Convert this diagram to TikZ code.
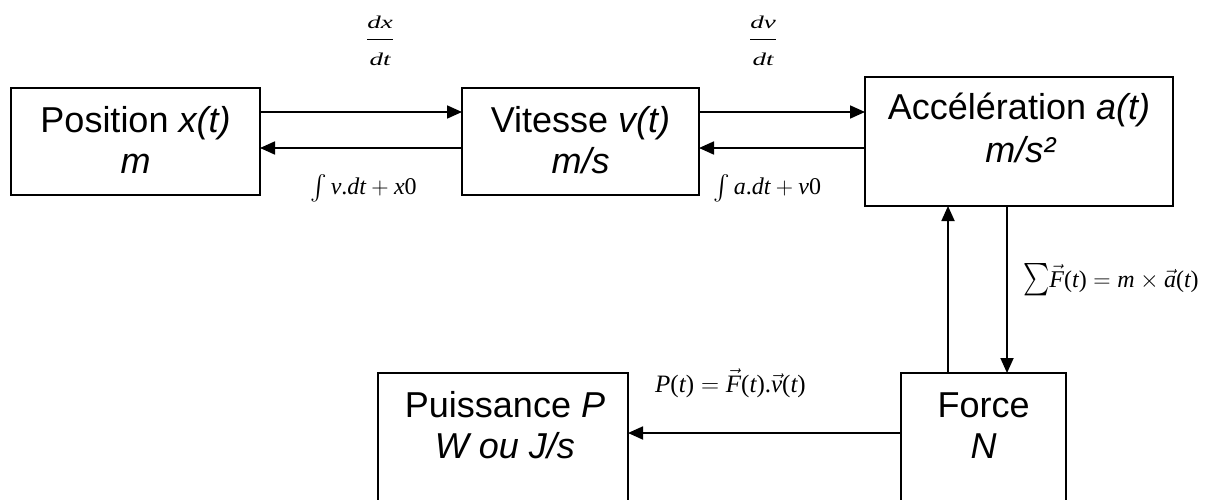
\RequirePackage{fix-cm}
\documentclass[tikz,border=0pt]{standalone}
\usepackage{amsmath}
\usepackage{graphicx}
\usepackage{fontspec}
\setmainfont{Liberation Sans}
\newfontfamily\tms{Liberation Serif}
\usetikzlibrary{arrows.meta,calc}
\newcommand\mv[1]{\text{\tms\itshape #1}}
\newcommand\mr[1]{\text{\tms\upshape #1}}
\begin{document}
\begin{tikzpicture}[x=1pt,y=-1pt,
  box/.style={draw, line width=1.8pt, inner sep=0pt, outer sep=0pt},
  txt/.style={font=\fontsize{36}{41}\selectfont, anchor=base, inner sep=0pt},
  mlbl/.style={font=\fontsize{24}{28}\selectfont, anchor=base west, inner sep=0pt},
  fraclbl/.style={font=\fontsize{18}{22}\selectfont, anchor=base, inner sep=0pt},
  arr/.style={line width=1.8pt, -{Triangle[length=15pt,width=13pt]}}]
\useasboundingbox (0,0) rectangle (1214,500);
\clip (0,0) rectangle (1214,500);
% boxes
\node[box, minimum width=249pt, minimum height=107pt] (pos) at (135.5,141.5) {};
\node[box, minimum width=237pt, minimum height=107pt] (vit) at (580.5,141.5) {};
\node[box, minimum width=308pt, minimum height=129pt] (acc) at (1019,141.5) {};
\node[box, minimum width=165pt, minimum height=167pt] (frc) at (983.5,456.5) {};
\node[box, minimum width=250pt, minimum height=167pt] (pui) at (503,456.5) {};
% box texts
\node[txt] (posA) at ($(pos.north)+(0,44)$) {Position \textit{x(t)}};
\node[txt] (posB) at ($(pos.north)+(0,85)$) {\textit{m}};
\node[txt] (vitA) at ($(vit.north)+(0,44)$) {Vitesse \textit{v(t)}};
\node[txt] (vitB) at ($(vit.north)+(0,85)$) {\textit{m/s}};
\node[txt] (accA) at ($(acc.north)+(0,43)$) {Accélération \textit{a(t)}};
\node[txt] (accB) at ($(acc.north)+(2,85)$) {\textit{m/s²}};
\node[txt] (frcA) at ($(frc.north)+(0,44)$) {Force};
\node[txt] (frcB) at ($(frc.north)+(0,85)$) {\textit{N}};
\node[txt] (puiA) at ($(pui.north)+(2,44)$) {Puissance \textit{P}};
\node[txt] (puiB) at ($(pui.north)+(2,85)$) {\textit{W ou J/s}};
% connectors
\draw[arr] ($(pos.north east)+(0,24)$) -- ($(vit.north west)+(0,24)$);
\draw[arr] ($(vit.north west)+(0,60)$) -- ($(pos.north east)+(0,60)$);
\coordinate (t2) at ($(vit.north east)+(0,24)$);
\draw[arr] (t2) -- (t2 -| acc.west);
\coordinate (b2) at ($(vit.north east)+(0,60)$);
\draw[arr] (b2 -| acc.west) -- (b2);
\coordinate (ux) at (948,300);
\coordinate (dnx) at (1007,300);
\draw[arr] (ux |- frc.north) -- (ux |- acc.south);
\draw[arr] (dnx |- acc.south) -- (dnx |- frc.north);
\coordinate (py) at (760,433);
\draw[arr] (py -| frc.west) -- (py -| pui.east);
% labels
\node[fraclbl] (f1) at (380,43.5) {\scalebox{1.5}[1]{$\genfrac{}{}{0.8pt}{0}{\mv{dx}\rule[-7.2pt]{0pt}{1pt}}{\rule{0pt}{24pt}\mv{dt}}$}};
\node[fraclbl] (f2) at (763,43.5) {\scalebox{1.5}[1]{$\genfrac{}{}{0.8pt}{0}{\mv{dv}\rule[-7.2pt]{0pt}{1pt}}{\rule{0pt}{24pt}\mv{dt}}$}};
\node[mlbl] (l1) at (310,194) {$\int\mv{v}\mr{.}\mv{dt}+\mv{x}\mr{0}$};
\node[mlbl] (l2) at (713,194) {$\int\mv{a}\mr{.}\mv{dt}+\mv{v}\mr{0}$};
\node[mlbl, font=\fontsize{25}{29}\selectfont] (l3) at (655,392) {$\mv{P}\mr{(}\mv{t}\mr{)}=\vec{\mv{F}}\mr{(}\mv{t}\mr{).}\vec{\mv{v}}\mr{(}\mv{t}\mr{)}$};
\node[mlbl] (l4) at (1023,287) {$\scalebox{1}[1.3]{$\sum$}\vec{\mv{F}}\mr{(}\mv{t}\mr{)}=\mv{m}\times\vec{\mv{a}}\mr{(}\mv{t}\mr{)}$};
\end{tikzpicture}
\end{document}
